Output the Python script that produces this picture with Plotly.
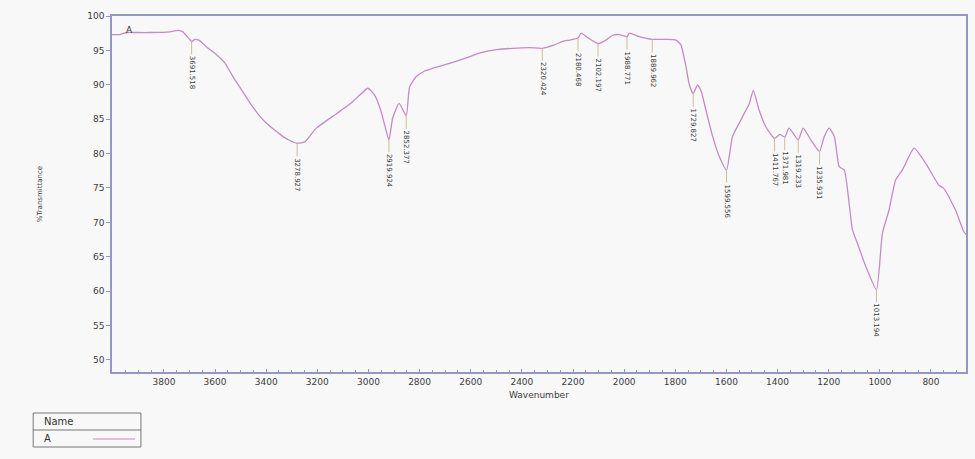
import numpy as np
import plotly.graph_objects as go

# FTIR spectrum of sample A (wavenumber in cm-1, %T)
wavenumber = [
    4003, 3972, 3956, 3941, 3913, 3855, 3777, 3745, 3726, 3706, 3691.518, 3679, 3663,
    3633, 3601, 3562, 3530, 3495, 3464, 3433, 3399, 3366, 3335, 3308, 3278.927, 3249,
    3204, 3125, 3073, 3034, 3002, 2976, 2952, 2937, 2919.924, 2905, 2880, 2852.377,
    2839, 2813, 2780, 2749, 2683, 2618, 2566, 2499, 2437, 2370, 2320.424, 2273, 2240,
    2214, 2180.468, 2168, 2144, 2102.197, 2071, 2045, 2019, 1988.771, 1980, 1941,
    1889.962, 1836, 1797, 1778, 1758, 1745, 1729.827, 1713, 1698, 1680, 1654, 1627,
    1599.556, 1576, 1543, 1524, 1511, 1495, 1472, 1446, 1411.767, 1391, 1371.981,
    1355, 1319.233, 1300, 1270, 1235.931, 1217, 1198, 1178, 1159, 1139, 1107, 1088,
    1055, 1013.194, 990, 964, 938, 912, 866, 821, 769, 749, 704, 671, 660,
]
transmittance = [
    97.3, 97.3, 97.5, 97.6, 97.6, 97.6, 97.7, 97.9, 97.7, 96.9, 96.3, 96.6, 96.5,
    95.5, 94.6, 93.2, 91.2, 89.2, 87.4, 85.8, 84.4, 83.4, 82.5, 81.9, 81.5, 81.7,
    83.7, 85.8, 87.2, 88.5, 89.5, 88.5, 86.3, 84.2, 82.0, 85.2, 87.3, 85.5,
    89.7, 91.2, 92.0, 92.4, 93.1, 93.9, 94.6, 95.1, 95.3, 95.4, 95.3, 95.8, 96.3,
    96.5, 96.8, 97.5, 96.9, 96.0, 96.5, 97.2, 97.3, 97.0, 97.5, 97.0,
    96.6, 96.6, 96.5, 95.8, 92.6, 90.0, 88.7, 90.0, 89.0, 86.3, 82.5, 79.5,
    77.6, 82.5, 84.9, 86.3, 87.2, 89.2, 86.3, 83.9, 82.2, 82.8, 82.4,
    83.7, 82.0, 83.7, 82.0, 80.3, 82.5, 83.7, 82.5, 78.1, 77.6, 68.9, 67.0,
    63.6, 60.2, 68.4, 71.8, 76.2, 77.6, 80.8, 78.6, 75.4, 74.9, 71.8, 68.6, 68.2,
]

# Marked peak positions
peak_positions = [
    3691.518, 3278.927, 2919.924, 2852.377, 2320.424, 2180.468, 2102.197,
    1988.771, 1889.962, 1729.827, 1599.556, 1411.767, 1371.981, 1319.233,
    1235.931, 1013.194,
]

x_ticks = [3800, 3600, 3400, 3200, 3000, 2800, 2600, 2400, 2200, 2000, 1800, 1600, 1400, 1200, 1000, 800]
y_ticks = [50, 55, 60, 65, 70, 75, 80, 85, 90, 95, 100]

W, H = 975, 459
ML, MR, MT, MB = 112, 7, 16, 87
PW, PH = W - ML - MR, H - MT - MB

LINE_COLOR = "#c48cc4"
AXIS_COLOR = "#9696c4"
TEXT_COLOR = "#3c3c3c"
BG = "#f8f8f8"
FONT = "DejaVu Sans"


def px_x(px):
    return (px - ML) / PW


def px_y(py):
    return (H - MB - py) / PH


fig = go.Figure()
fig.add_trace(go.Scatter(
    x=wavenumber, y=transmittance, mode="lines", name="A",
    line=dict(color=LINE_COLOR, width=1.3, shape="spline", smoothing=0.5),
    showlegend=False,
))

# sorted copies for looking up the curve height at each marked peak
wn_asc = np.array(wavenumber[::-1])
tr_asc = np.array(transmittance[::-1])

annotations = []
for p in peak_positions:
    yv = float(np.interp(p, wn_asc, tr_asc))
    annotations.append(dict(
        x=p, y=yv, xref="x", yref="y", text=f"{p:.3f}",
        showarrow=True, arrowhead=0, arrowwidth=1, arrowcolor="#c9bd98",
        ax=0, ay=31, standoff=0, textangle=90,
        font=dict(family=FONT, size=7, color="#3a3a3a"),
    ))

annotations.append(dict(
    x=3936, y=97.95, xref="x", yref="y", text="A", showarrow=False,
    yanchor="middle", font=dict(family=FONT, size=9, color="#333333"),
))
annotations.append(dict(
    x=px_x(40), y=px_y(194), xref="paper", yref="paper", text="%Transmittance",
    showarrow=False, textangle=-90, xanchor="center", yanchor="middle",
    font=dict(family=FONT, size=7, color=TEXT_COLOR),
))
annotations.append(dict(
    x=px_x(540), y=px_y(395), xref="paper", yref="paper", text="Wavenumber",
    showarrow=False, xanchor="center", yanchor="middle",
    font=dict(family=FONT, size=9, color=TEXT_COLOR),
))

# name table in the lower left
annotations.append(dict(
    x=px_x(42), y=px_y(421.5), xref="paper", yref="paper", text="Name",
    showarrow=False, xanchor="left", yanchor="middle",
    font=dict(family=FONT, size=10, color="#333333"),
))
annotations.append(dict(
    x=px_x(42), y=px_y(438.5), xref="paper", yref="paper", text="A",
    showarrow=False, xanchor="left", yanchor="middle",
    font=dict(family=FONT, size=10, color="#333333"),
))
shapes = [
    dict(type="rect", xref="paper", yref="paper", x0=px_x(33), x1=px_x(141),
         y0=px_y(413), y1=px_y(447), line=dict(color="#777777", width=1)),
    dict(type="line", xref="paper", yref="paper", x0=px_x(33), x1=px_x(141),
         y0=px_y(430), y1=px_y(430), line=dict(color="#777777", width=1)),
    dict(type="line", xref="paper", yref="paper", x0=px_x(93), x1=px_x(135),
         y0=px_y(439), y1=px_y(439), line=dict(color=LINE_COLOR, width=1.2)),
]

fig.update_layout(
    width=W, height=H, autosize=False,
    margin=dict(l=ML, r=MR, t=MT, b=MB, pad=0),
    paper_bgcolor=BG, plot_bgcolor=BG,
    annotations=annotations, shapes=shapes,
    font=dict(family=FONT, size=9, color=TEXT_COLOR),
    xaxis=dict(
        range=[4003, 663], tickvals=x_ticks, ticktext=[str(v) for v in x_ticks],
        showgrid=False, zeroline=False, showline=True, linecolor=AXIS_COLOR, linewidth=1.5,
        mirror=True, ticks="inside", ticklen=3, tickcolor=AXIS_COLOR,
        minor=dict(dtick=50, tick0=0, ticks="inside", ticklen=2, tickcolor=AXIS_COLOR),
        tickfont=dict(family=FONT, size=9, color=TEXT_COLOR),
    ),
    yaxis=dict(
        range=[48.25, 100], tickvals=y_ticks, ticktext=[str(v) for v in y_ticks],
        showgrid=False, zeroline=False, showline=True, linecolor=AXIS_COLOR, linewidth=1.5,
        mirror=True, ticks="outside", ticklen=4, tickcolor=AXIS_COLOR,
        tickfont=dict(family=FONT, size=9, color=TEXT_COLOR),
    ),
)

fig.write_html("out.html")
